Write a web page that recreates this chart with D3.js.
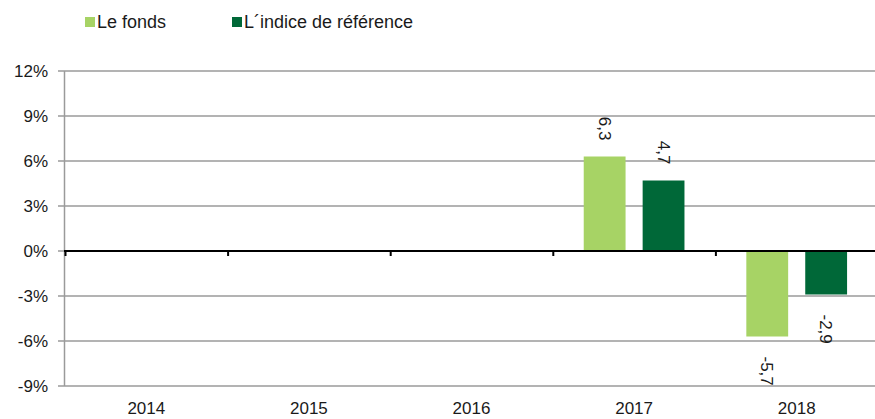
<!DOCTYPE html>
<html><head><meta charset="utf-8">
<script src="https://cdn.jsdelivr.net/npm/d3@7"></script>
<style>body{margin:0;background:#fff}svg{display:block}text{font-family:"Liberation Sans",Arial,sans-serif}</style>
</head><body>
<svg id="c" width="875" height="419"></svg>
<script>
const categories = ["2014","2015","2016","2017","2018"];
const seriesNames = ["Le fonds","L´indice de référence"];
const fundValues = [null,null,null,6.3,-5.7];
const benchValues = [null,null,null,4.7,-2.9];
const yTicks = [-9,-6,-3,0,3,6,9,12];
const colors = ["#A7D365","#006838"];

const svg = d3.select("#c");
const x = d3.scaleBand().domain(categories).range([65,878]).padding(0);
const xi = d3.scaleBand().domain([0,1]).range([0,x.bandwidth()]).paddingInner(0.29).paddingOuter(0.525);
const y = d3.scaleLinear().domain([-9,12]).range([386,71]);

// gridlines
svg.append("g").selectAll("line").data(yTicks.filter(d=>d!==0)).join("line")
  .attr("x1",58).attr("x2",875).attr("y1",d=>y(d)).attr("y2",d=>y(d))
  .attr("stroke","#9a9a9a").attr("stroke-width",1.5);
svg.append("line").attr("x1",58).attr("x2",64).attr("y1",y(0)).attr("y2",y(0)).attr("stroke","#9a9a9a").attr("stroke-width",1.5);
// y axis line
svg.append("line").attr("x1",64.5).attr("x2",64.5).attr("y1",y(12)).attr("y2",y(-9)).attr("stroke","#9a9a9a").attr("stroke-width",1.5);
// y labels
svg.append("g").selectAll("text").data(yTicks).join("text")
  .attr("x",48).attr("y",d=>y(d)).attr("dy","0.36em").attr("text-anchor","end")
  .attr("font-size",17).attr("fill","#1a1a1a").text(d=>d+"%");

// bars
const series = [fundValues, benchValues];
series.forEach((vals,si)=>{
  const g = svg.append("g");
  const data = categories.map((c,i)=>({c,v:vals[i]})).filter(d=>d.v!==null);
  g.selectAll("rect").data(data).join("rect")
    .attr("x",d=>x(d.c)+xi(si)).attr("width",xi.bandwidth())
    .attr("y",d=>Math.min(y(d.v),y(0))).attr("height",d=>Math.abs(y(d.v)-y(0)))
    .attr("fill",colors[si]);
  g.selectAll("text").data(data).join("text")
    .attr("transform",d=>{
      const cx = x(d.c)+xi(si)+xi.bandwidth()/2;
      const cy = d.v>=0 ? y(d.v)-16 : y(d.v)+20;
      return `translate(${cx},${cy}) rotate(90)`;
    })
    .attr("text-anchor",d=>d.v>=0?"end":"start").attr("dy","0.35em")
    .attr("font-size",17).attr("fill","#1a1a1a")
    .text(d=>String(d.v).replace(".",","));
});

// zero line
svg.append("line").attr("x1",64).attr("x2",875).attr("y1",y(0)).attr("y2",y(0)).attr("stroke","#000").attr("stroke-width",2);
svg.append("g").selectAll("line").data(categories).join("line")
  .attr("x1",d=>x(d)+0.5).attr("x2",d=>x(d)+0.5).attr("y1",y(0)).attr("y2",y(0)+5)
  .attr("stroke","#000").attr("stroke-width",2);

// x labels
svg.append("g").selectAll("text").data(categories).join("text")
  .attr("x",d=>x(d)+x.bandwidth()/2).attr("y",408).attr("dy","0.36em").attr("text-anchor","middle")
  .attr("font-size",17).attr("fill","#1a1a1a").text(d=>d);

// legend
const legX = [85,232];
seriesNames.forEach((n,i)=>{
  svg.append("rect").attr("x",legX[i]).attr("y",17).attr("width",10).attr("height",10).attr("fill",colors[i]);
  svg.append("text").attr("x",legX[i]+12).attr("y",22).attr("dy","0.36em").attr("font-size",18).attr("fill","#1a1a1a").text(n);
});
</script>
</body></html>
